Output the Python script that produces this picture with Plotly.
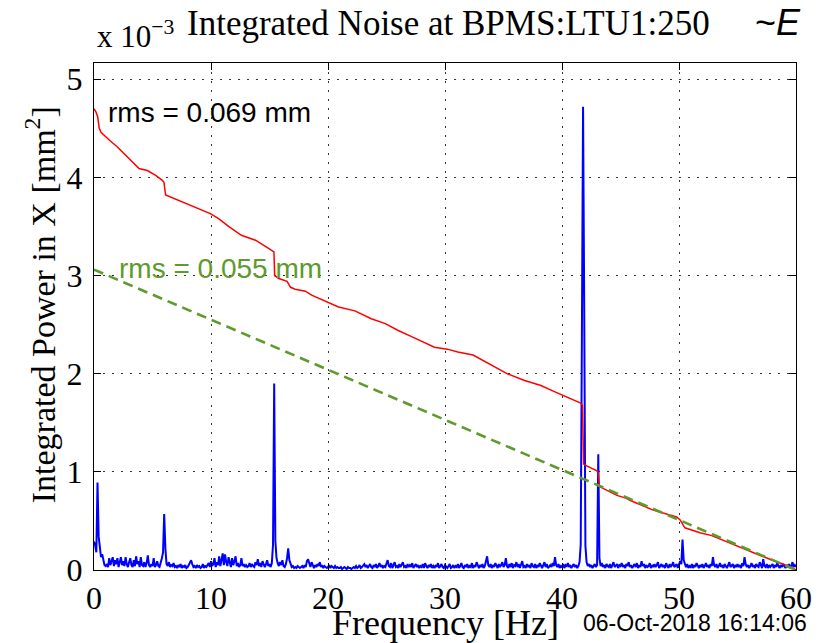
import numpy as np
import plotly.graph_objects as go

# ---------------- data (units of 1e-3 mm^2) ----------------
# blue spectrum sampled every 0.1 Hz, rows = 1 Hz each
spec_rows = [
    [0.29, 0.25, 0.18, 0.89, 0.34, 0.20, 0.13, 0.16, 0.09, 0.05],  # 0
    [0.04, 0.06, 0.03, 0.12, 0.05, 0.08, 0.13, 0.04, 0.10, 0.06],  # 1
    [0.12, 0.03, 0.07, 0.13, 0.05, 0.09, 0.04, 0.13, 0.06, 0.03],  # 2
    [0.08, 0.12, 0.05, 0.03, 0.10, 0.04, 0.14, 0.06, 0.09, 0.03],  # 3
    [0.13, 0.05, 0.04, 0.08, 0.03, 0.07, 0.15, 0.05, 0.03, 0.06],  # 4
    [0.04, 0.12, 0.03, 0.05, 0.09, 0.04, 0.03, 0.07, 0.12, 0.18],  # 5
    [0.57, 0.22, 0.06, 0.04, 0.08, 0.03, 0.05, 0.04, 0.07, 0.03],  # 6
    [0.04, 0.02, 0.05, 0.03, 0.06, 0.02, 0.04, 0.03, 0.05, 0.02],  # 7
    [0.03, 0.05, 0.07, 0.10, 0.06, 0.03, 0.04, 0.02, 0.05, 0.03],  # 8
    [0.04, 0.02, 0.03, 0.06, 0.02, 0.04, 0.03, 0.05, 0.07, 0.03],  # 9
    [0.09, 0.04, 0.06, 0.12, 0.03, 0.08, 0.05, 0.14, 0.04, 0.10],  # 10
    [0.17, 0.05, 0.16, 0.08, 0.04, 0.13, 0.06, 0.03, 0.12, 0.05],  # 11
    [0.09, 0.14, 0.04, 0.07, 0.03, 0.05, 0.12, 0.04, 0.06, 0.03],  # 12
    [0.05, 0.03, 0.04, 0.07, 0.03, 0.06, 0.04, 0.03, 0.08, 0.05],  # 13
    [0.11, 0.04, 0.07, 0.03, 0.09, 0.05, 0.03, 0.06, 0.10, 0.04],  # 14
    [0.06, 0.03, 0.07, 0.26, 1.90, 0.30, 0.12, 0.07, 0.04, 0.08],  # 15
    [0.05, 0.10, 0.04, 0.03, 0.06, 0.12, 0.22, 0.10, 0.05, 0.03],  # 16
    [0.04, 0.02, 0.03, 0.02, 0.04, 0.03, 0.02, 0.03, 0.04, 0.02],  # 17
    [0.05, 0.03, 0.09, 0.11, 0.06, 0.03, 0.08, 0.04, 0.02, 0.05],  # 18
    [0.03, 0.06, 0.04, 0.08, 0.03, 0.05, 0.02, 0.04, 0.03, 0.02],  # 19
    [0.03, 0.05, 0.02, 0.04, 0.03, 0.02, 0.04, 0.02, 0.03, 0.02],  # 20
    [0.02, 0.03, 0.01, 0.02, 0.03, 0.02, 0.01, 0.03, 0.02, 0.02],  # 21
    [0.01, 0.02, 0.03, 0.02, 0.04, 0.02, 0.03, 0.05, 0.02, 0.03],  # 22
    [0.04, 0.06, 0.03, 0.05, 0.02, 0.04, 0.06, 0.03, 0.02, 0.05],  # 23
    [0.03, 0.06, 0.02, 0.04, 0.07, 0.03, 0.05, 0.02, 0.04, 0.03],  # 24
    [0.06, 0.10, 0.04, 0.03, 0.07, 0.02, 0.05, 0.08, 0.03, 0.04],  # 25
    [0.02, 0.06, 0.03, 0.05, 0.08, 0.03, 0.04, 0.02, 0.06, 0.03],  # 26
    [0.05, 0.03, 0.07, 0.02, 0.04, 0.06, 0.03, 0.05, 0.02, 0.04],  # 27
    [0.03, 0.06, 0.02, 0.07, 0.04, 0.02, 0.05, 0.03, 0.06, 0.02],  # 28
    [0.04, 0.02, 0.05, 0.03, 0.07, 0.02, 0.04, 0.06, 0.03, 0.02],  # 29
    [0.05, 0.03, 0.02, 0.04, 0.06, 0.02, 0.03, 0.05, 0.02, 0.04],  # 30
    [0.03, 0.06, 0.02, 0.04, 0.07, 0.03, 0.02, 0.05, 0.03, 0.06],  # 31
    [0.02, 0.04, 0.03, 0.07, 0.02, 0.05, 0.03, 0.08, 0.04, 0.02],  # 32
    [0.05, 0.03, 0.06, 0.02, 0.04, 0.09, 0.14, 0.05, 0.03, 0.06],  # 33
    [0.02, 0.05, 0.03, 0.07, 0.04, 0.02, 0.06, 0.03, 0.05, 0.08],  # 34
    [0.03, 0.05, 0.12, 0.04, 0.02, 0.06, 0.03, 0.07, 0.02, 0.05],  # 35
    [0.04, 0.08, 0.03, 0.06, 0.02, 0.05, 0.09, 0.03, 0.04, 0.02],  # 36
    [0.06, 0.03, 0.05, 0.02, 0.07, 0.04, 0.03, 0.06, 0.02, 0.05],  # 37
    [0.03, 0.07, 0.04, 0.02, 0.05, 0.08, 0.03, 0.06, 0.02, 0.04],  # 38
    [0.05, 0.03, 0.07, 0.04, 0.13, 0.05, 0.03, 0.06, 0.02, 0.04],  # 39
    [0.03, 0.06, 0.02, 0.05, 0.04, 0.07, 0.03, 0.05, 0.02, 0.04],  # 40
    [0.06, 0.03, 0.05, 0.02, 0.04, 0.08, 0.26, 2.36, 4.72, 2.65],  # 41
    [0.25, 0.08, 0.04, 0.06, 0.03, 0.05, 0.02, 0.04, 0.06, 0.03],  # 42
    [0.05, 1.18, 0.12, 0.04, 0.07, 0.03, 0.05, 0.02, 0.06, 0.04],  # 43
    [0.03, 0.06, 0.02, 0.05, 0.08, 0.03, 0.04, 0.06, 0.02, 0.05],  # 44
    [0.04, 0.07, 0.03, 0.05, 0.02, 0.06, 0.04, 0.08, 0.03, 0.05],  # 45
    [0.02, 0.04, 0.06, 0.03, 0.07, 0.02, 0.05, 0.03, 0.09, 0.04],  # 46
    [0.06, 0.02, 0.05, 0.03, 0.04, 0.07, 0.02, 0.05, 0.03, 0.06],  # 47
    [0.03, 0.05, 0.08, 0.02, 0.04, 0.06, 0.03, 0.05, 0.02, 0.07],  # 48
    [0.04, 0.02, 0.06, 0.03, 0.05, 0.08, 0.03, 0.04, 0.06, 0.02],  # 49
    [0.05, 0.09, 0.06, 0.31, 0.10, 0.05, 0.03, 0.06, 0.02, 0.04],  # 50
    [0.03, 0.06, 0.02, 0.05, 0.03, 0.07, 0.04, 0.02, 0.05, 0.03],  # 51
    [0.06, 0.02, 0.04, 0.07, 0.03, 0.05, 0.02, 0.06, 0.04, 0.13],  # 52
    [0.05, 0.03, 0.06, 0.02, 0.04, 0.07, 0.03, 0.05, 0.02, 0.06],  # 53
    [0.04, 0.02, 0.05, 0.08, 0.03, 0.04, 0.06, 0.02, 0.05, 0.03],  # 54
    [0.06, 0.03, 0.05, 0.02, 0.07, 0.04, 0.13, 0.06, 0.03, 0.05],  # 55
    [0.02, 0.04, 0.07, 0.03, 0.05, 0.02, 0.06, 0.04, 0.03, 0.08],  # 56
    [0.05, 0.02, 0.11, 0.04, 0.03, 0.06, 0.02, 0.05, 0.03, 0.04],  # 57
    [0.06, 0.02, 0.05, 0.03, 0.07, 0.04, 0.02, 0.05, 0.03, 0.06],  # 58
    [0.04, 0.02, 0.05, 0.03, 0.06, 0.02, 0.04, 0.08, 0.03, 0.05],  # 59
    [0.03],                                                        # 60
]
spec_vals = [v for row in spec_rows for v in row]
spec_freq = [round(i * 0.1, 1) for i in range(len(spec_vals))]

# red: integrated power (reverse cumulative)
int_freq = [0.0, 0.15, 0.31, 0.45, 0.6, 1.02, 1.3, 2.0, 3.0, 3.85, 4.56, 5.27,
            5.84, 5.98, 6.12, 6.7, 7.8, 8.95, 9.94, 10.65, 11.5, 12.6, 13.8,
            14.75, 15.3, 15.38, 15.44, 15.8, 16.5, 16.8, 17.2, 18.07, 18.6,
            19.8, 20.9, 22.3, 23.7, 24.9, 26.0, 27.1, 28.3, 29.1, 30.2, 31.1,
            32.4, 33.9, 35.3, 36.8, 38.2, 39.3, 40.2, 41.6, 41.75, 41.85, 42.1,
            43.0, 43.1, 43.2, 44.7, 45.5, 45.8, 47.8, 49.8, 50.1, 50.5, 51.8,
            52.8, 54.0, 55.5, 56.9, 58.0, 59.6, 60.0]
int_vals = [4.70, 4.67, 4.62, 4.50, 4.46, 4.41, 4.38, 4.31, 4.19, 4.09, 4.07,
            4.02, 3.97, 3.95, 3.82, 3.79, 3.74, 3.68, 3.63, 3.58, 3.50, 3.41,
            3.36, 3.29, 3.25, 3.24, 3.00, 2.97, 2.94, 2.88, 2.86, 2.84, 2.80,
            2.74, 2.68, 2.64, 2.56, 2.51, 2.44, 2.38, 2.31, 2.27, 2.25, 2.22,
            2.19, 2.09, 2.00, 1.93, 1.88, 1.82, 1.77, 1.70, 1.68, 1.08, 1.06,
            1.01, 0.98, 0.85, 0.76, 0.73, 0.71, 0.61, 0.54, 0.51, 0.43, 0.38,
            0.35, 0.29, 0.22, 0.15, 0.10, 0.03, 0.0]

# green: reference line
ref_freq = [0, 60]
ref_vals = [3.06, 0.0]

x_ticks = [0, 10, 20, 30, 40, 50, 60]
y_ticks = [0, 1, 2, 3, 4, 5]

# ---------------- figure ----------------
W, H = 824, 643
L, R, T, B = 94, 24, 63, 73
pw, ph = W - L - R, H - T - B


def px(x):
    return (x - L) / pw


def py(y):
    return (H - B - y) / ph


GREEN = "#5f9a2c"
SERIF = "Liberation Serif, Times New Roman, serif"
SANS = "Liberation Sans, Arial, sans-serif"

fig = go.Figure()
fig.add_trace(go.Scatter(x=spec_freq, y=spec_vals, mode="lines",
                         line=dict(color="#0000ff", width=2), showlegend=False))
fig.add_trace(go.Scatter(x=int_freq, y=int_vals, mode="lines",
                         line=dict(color="#ff0000", width=1.5), showlegend=False))
fig.add_trace(go.Scatter(x=ref_freq, y=ref_vals, mode="lines",
                         line=dict(color=GREEN, width=2.6, dash="10px,6px"),
                         showlegend=False))

axis_common = dict(showline=True, linecolor="black", linewidth=1, mirror="allticks",
                   ticks="inside", ticklen=7, tickcolor="black",
                   showgrid=True, gridcolor="#333333", gridwidth=1, griddash="1.5px,7.5px",
                   zeroline=False, tickfont=dict(family=SERIF, size=32, color="black"))

fig.update_xaxes(range=[0, 60], tickvals=x_ticks, ticktext=[str(t) for t in x_ticks],
                 **axis_common)
fig.update_yaxes(range=[0, 5.165], tickvals=y_ticks, ticktext=[str(t) for t in y_ticks],
                 ticklabelstandoff=4, **axis_common)

ann = []
ann.append(dict(x=px(95), y=py(56), xanchor="left", yanchor="bottom",
                text="x 10<sup>−3</sup>", font=dict(family=SERIF, size=31, color="black")))
ann.append(dict(x=px(186), y=py(23), xanchor="left", yanchor="middle",
                text="Integrated Noise at BPMS:LTU1:250",
                font=dict(family=SERIF, size=35, color="black")))
ann.append(dict(x=px(757), y=py(22), xanchor="left", yanchor="middle",
                text="~<i>E</i>", font=dict(family=SANS, size=36, color="black")))
ann.append(dict(x=px(106), y=py(113), xanchor="left", yanchor="middle",
                text="rms = 0.069 mm", font=dict(family=SANS, size=28, color="black")))
ann.append(dict(x=px(117), y=py(268), xanchor="left", yanchor="middle",
                text="rms = 0.055 mm", font=dict(family=SANS, size=28, color=GREEN)))
ann.append(dict(x=px(447), y=py(623), xanchor="center", yanchor="middle",
                text="Frequency [Hz]", font=dict(family=SERIF, size=36, color="black")))
ann.append(dict(x=px(40), y=py(305), xanchor="center", yanchor="middle", textangle=-90,
                text="Integrated Power in X [mm<sup>2</sup>]",
                font=dict(family=SERIF, size=34, color="black")))
ann.append(dict(x=px(584), y=py(623), xanchor="left", yanchor="middle",
                text="06-Oct-2018 16:14:06", font=dict(family=SANS, size=23, color="black")))
for a in ann:
    a.update(xref="paper", yref="paper", showarrow=False)

fig.update_layout(width=W, height=H, margin=dict(l=L, r=R, t=T, b=B),
                  paper_bgcolor="white", plot_bgcolor="white", annotations=ann)

fig.write_html("out.html")
